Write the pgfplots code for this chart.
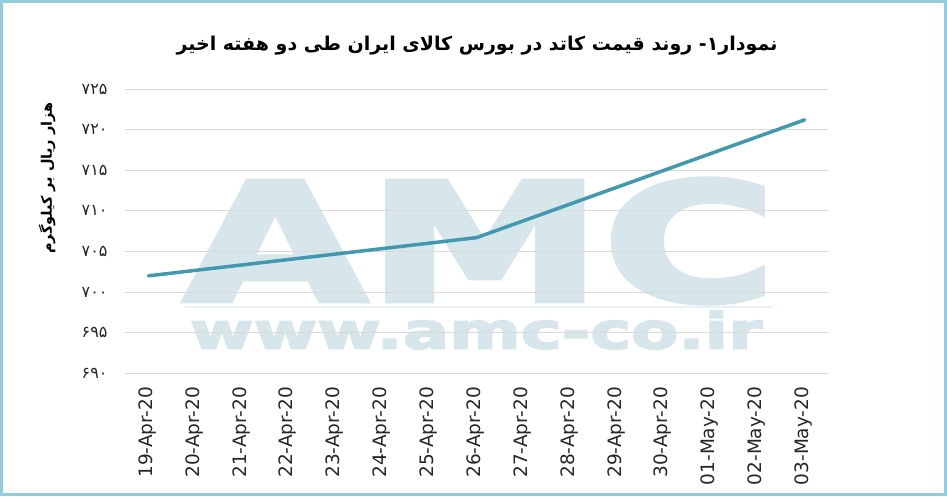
\documentclass[border=0pt]{standalone}
\usepackage{pgfplots}
\pgfplotsset{compat=1.18}
\usepackage{fontspec}
\setmainfont{DejaVu Sans}
\newfontfamily\arabicfont[Script=Arabic]{DejaVu Sans}
\newfontfamily\wmfont[FakeBold=3]{DejaVu Sans Bold}
\TeXXeTstate=1
\definecolor{frameblue}{RGB}{146,205,220}
\definecolor{linecol}{RGB}{66,152,175}
\definecolor{wm}{RGB}{214,230,235}
\definecolor{wmline}{RGB}{232,241,244}
\definecolor{gridcol}{RGB}{217,217,217}
\begin{document}
\begin{tikzpicture}
\useasboundingbox (0pt,0pt) rectangle (947pt,496pt);
\fill[white] (0pt,0pt) rectangle (947pt,496pt);
\draw[frameblue, line width=3pt] (1.5pt,1.5pt) rectangle (945.5pt,494.5pt);
% watermark
\node[wm, inner sep=0] at (480pt,255pt) {\resizebox{592pt}{122pt}{\wmfont AMC}};
\fill[wmline] (185pt,188pt) rectangle (773pt,190pt);
\node[wm, inner sep=0] at (476pt,166pt) {\resizebox{572pt}{38pt}{\wmfont www.amc-co.ir}};
% title
\node at (477pt,450pt) {\arabicfont\bfseries\fontsize{19}{22}\selectfont\beginR نمودار۱- روند قیمت کاتد در بورس کالای ایران طی دو هفته اخیر\endR};
% y label
\node[rotate=90] at (47pt,318pt) {\arabicfont\bfseries\fontsize{14.5}{16}\selectfont\beginR هزار ریال بر کیلوگرم\endR};
\begin{axis}[
  at={(125pt,122.7pt)}, anchor=south west,
  scale only axis, width=703pt, height=284.3pt,
  xmin=-0.5, xmax=14.5, ymin=690, ymax=725,
  xtick={0,...,14},
  xticklabels={19-Apr-20,20-Apr-20,21-Apr-20,22-Apr-20,23-Apr-20,24-Apr-20,25-Apr-20,26-Apr-20,27-Apr-20,28-Apr-20,29-Apr-20,30-Apr-20,01-May-20,02-May-20,03-May-20},
  xticklabel style={rotate=90, anchor=east, font=\fontsize{18.5}{20}\selectfont, text=black!85, xshift=-10pt, yshift=1pt},
  ytick={690,695,...,725},
  yticklabels={۶۹۰,۶۹۵,۷۰۰,۷۰۵,۷۱۰,۷۱۵,۷۲۰,۷۲۵},
  yticklabel style={font=\arabicfont\fontsize{16}{18}\selectfont, text=black!85, xshift=-14pt},
  axis line style={draw=none},
  major tick length=0pt,
  ymajorgrids, grid style={gridcol, line width=1pt},
  clip=false,
]
\addplot[linecol, line width=3.5pt, line cap=round, line join=round] coordinates {(0,702.0) (7,706.7) (14,721.2)};
\end{axis}
\end{tikzpicture}
\end{document}
